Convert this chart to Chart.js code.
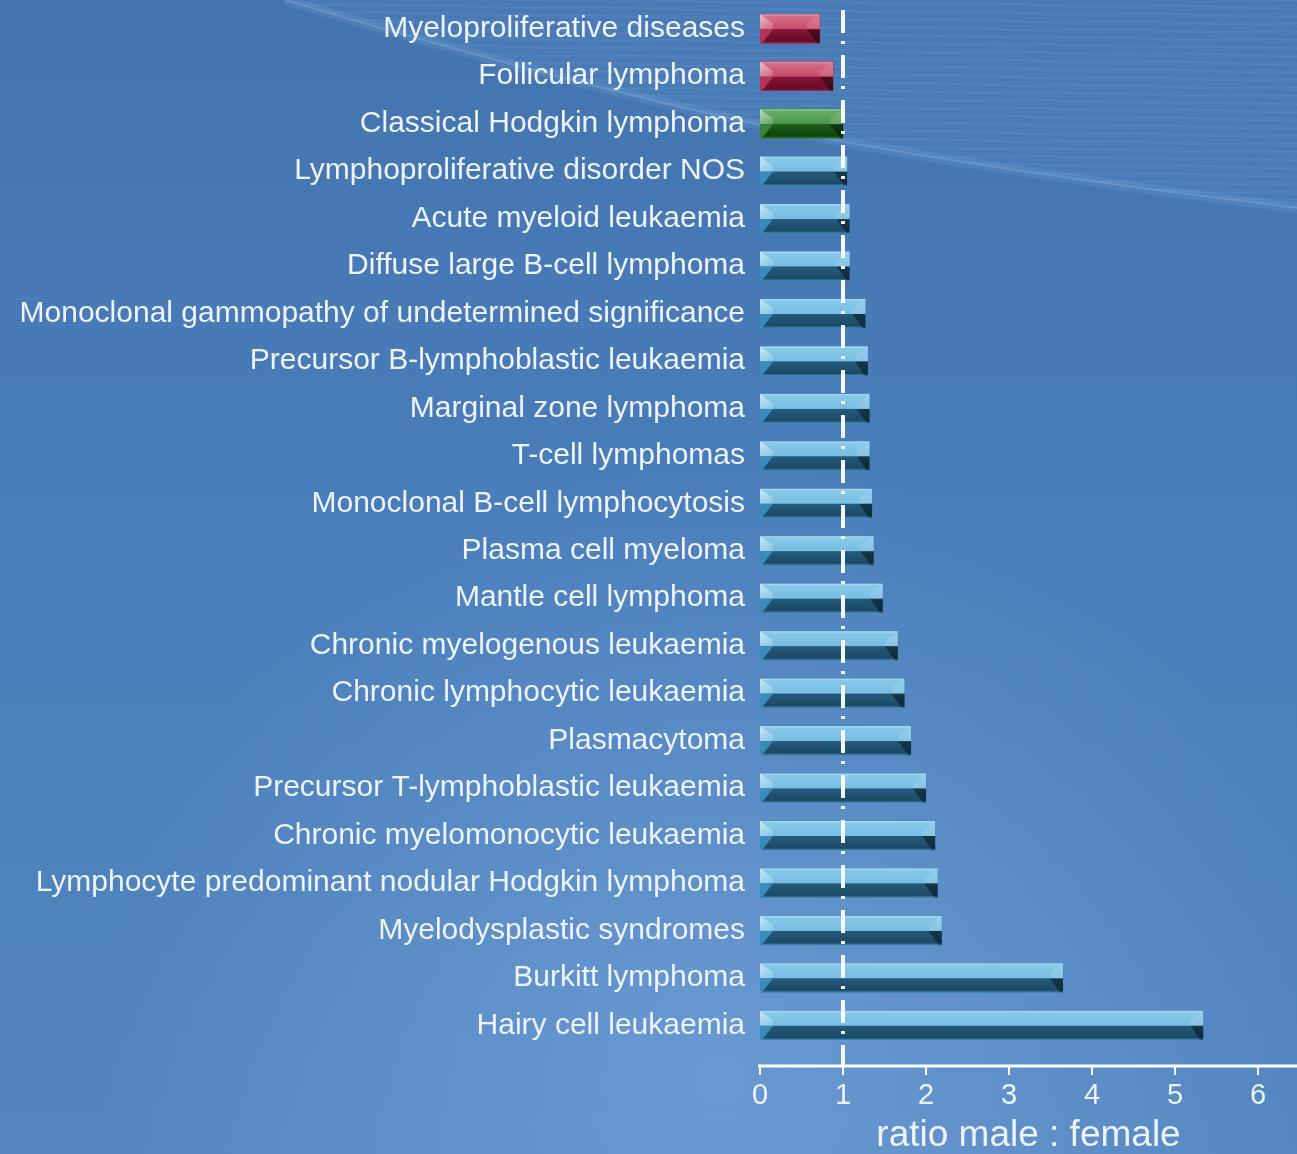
<!DOCTYPE html>
<html lang="en">
<head>
<meta charset="UTF-8">
<title>Male : female ratio by haematological malignancy</title>
<script src="https://cdn.jsdelivr.net/npm/chart.js"></script>
<style>
  body { margin: 0; background: #4677b2; }
  .wrap { width: 1297px; height: 1154px; position: relative; }
</style>
</head>
<body>
<div class="wrap"><canvas id="ratioChart"></canvas></div>
<script>
const diseases = [
    'Myeloproliferative diseases',
    'Follicular lymphoma',
    'Classical Hodgkin lymphoma',
    'Lymphoproliferative disorder NOS',
    'Acute myeloid leukaemia',
    'Diffuse large B-cell lymphoma',
    'Monoclonal gammopathy of undetermined significance',
    'Precursor B-lymphoblastic leukaemia',
    'Marginal zone lymphoma',
    'T-cell lymphomas',
    'Monoclonal B-cell lymphocytosis',
    'Plasma cell myeloma',
    'Mantle cell lymphoma',
    'Chronic myelogenous leukaemia',
    'Chronic lymphocytic leukaemia',
    'Plasmacytoma',
    'Precursor T-lymphoblastic leukaemia',
    'Chronic myelomonocytic leukaemia',
    'Lymphocyte predominant nodular Hodgkin lymphoma',
    'Myelodysplastic syndromes',
    'Burkitt lymphoma',
    'Hairy cell leukaemia'
];
const maleFemaleRatio = [
    0.72, 0.88, 1.00, 1.05, 1.08, 1.08, 1.27, 1.30, 1.32, 1.32, 1.35,
    1.37, 1.48, 1.66, 1.74, 1.82, 2.00, 2.11, 2.14, 2.19, 3.65, 5.34
];
const xTickValues = [0, 1, 2, 3, 4, 5, 6];
const parityRatio = 1;

// shading per tone: female-predominant, equal, male-predominant
const tones = {
    red:   { base: '#a3264a', topA: '#d9728c', topB: '#c44c6b', botA: '#86163a', botB: '#680b27', edge: '#9c2244', facet: 'rgba(190,60,95,0.85)' },
    green: { base: '#2f7a2f', topA: '#6cb06c', topB: '#4c944c', botA: '#1c5c1c', botB: '#0d450d', edge: '#2a7a2a', facet: 'rgba(60,140,60,0.85)' },
    blue:  { base: '#3f86ad', topA: '#8acbeb', topB: '#76bde2', botA: '#245a7b', botB: '#1c4a66', edge: '#3a86b1', facet: 'rgba(60,150,200,0.85)' }
};
function toneFor(v) {
    if (v < parityRatio) return tones.red;
    if (v === parityRatio) return tones.green;
    return tones.blue;
}

function swooshPath(ctx, W) {
    ctx.moveTo(285, 0);
    ctx.bezierCurveTo(520, 70, 700, 115, 850, 143);
    ctx.bezierCurveTo(1000, 170, 1150, 190, W, 208);
}

const backdrop = {
    id: 'backdrop',
    beforeDraw(chart) {
        const ctx = chart.ctx, W = chart.width, H = chart.height;
        ctx.save();
        const g = ctx.createLinearGradient(0, 0, 0, H);
        g.addColorStop(0, '#4374b0');
        g.addColorStop(0.5, '#4a7fbb');
        g.addColorStop(1, '#5386c0');
        ctx.fillStyle = g;
        ctx.fillRect(0, 0, W, H);

        // soft glow in the lower middle
        const r = ctx.createRadialGradient(720, 1080, 0, 720, 1080, 620);
        r.addColorStop(0, 'rgba(125,170,225,0.55)');
        r.addColorStop(1, 'rgba(125,170,225,0)');
        ctx.fillStyle = r;
        ctx.fillRect(0, 0, W, H);

        // rippled swoosh in the top right corner
        ctx.beginPath();
        swooshPath(ctx, W);
        ctx.lineTo(W, 0);
        ctx.closePath();
        ctx.fillStyle = 'rgba(110,160,215,0.16)';
        ctx.fill();
        ctx.save();
        ctx.clip();
        ctx.lineWidth = 1.5;
        for (let y = -20; y < 230; y += 4) {
            ctx.strokeStyle = (y / 4) % 2 ? 'rgba(150,195,240,0.10)' : 'rgba(40,90,150,0.07)';
            ctx.beginPath();
            for (let x = 280; x <= W + 20; x += 12) {
                const yy = y + (x - 280) * 0.012 + Math.sin(x / 30 + y * 0.9) * 0.9;
                if (x === 280) ctx.moveTo(x, yy); else ctx.lineTo(x, yy);
            }
            ctx.stroke();
        }
        ctx.restore();

        ctx.beginPath();
        swooshPath(ctx, W);
        ctx.strokeStyle = 'rgba(190,220,250,0.10)';
        ctx.lineWidth = 10;
        ctx.stroke();
        ctx.strokeStyle = 'rgba(210,230,255,0.16)';
        ctx.lineWidth = 2;
        ctx.stroke();
        ctx.restore();
    }
};

// glassy bevel over each bar, using the bar geometry from the chart
const bevelBars = {
    id: 'bevelBars',
    afterDatasetsDraw(chart) {
        const ctx = chart.ctx;
        const meta = chart.getDatasetMeta(0);
        ctx.save();
        meta.data.forEach((el, i) => {
            const p = el.getProps(['x', 'y', 'base', 'height'], true);
            const t = toneFor(maleFemaleRatio[i]);
            const x0 = p.base, x1 = p.x, h = p.height;
            const yt = p.y - h / 2, yb = p.y + h / 2, w = x1 - x0;
            const mid = yt + h * 0.52;

            let g = ctx.createLinearGradient(0, yt, 0, mid);
            g.addColorStop(0, t.topA);
            g.addColorStop(1, t.topB);
            ctx.fillStyle = g;
            ctx.fillRect(x0, yt, w, mid - yt);

            g = ctx.createLinearGradient(0, mid, 0, yb);
            g.addColorStop(0, t.botA);
            g.addColorStop(0.85, t.botB);
            g.addColorStop(1, t.edge);
            ctx.fillStyle = g;
            ctx.fillRect(x0, mid, w, yb - mid);

            const b = Math.min(13, w / 2);
            // left facet: light corner above, mid tone below
            ctx.beginPath();
            ctx.moveTo(x0, yt);
            ctx.lineTo(x0 + b, yt + h * 0.32);
            ctx.lineTo(x0 + b, mid);
            ctx.lineTo(x0, mid);
            ctx.closePath();
            g = ctx.createLinearGradient(x0, yt, x0 + b, mid);
            g.addColorStop(0, 'rgba(255,255,255,0.55)');
            g.addColorStop(1, 'rgba(255,255,255,0.12)');
            ctx.fillStyle = g;
            ctx.fill();
            ctx.beginPath();
            ctx.moveTo(x0, mid);
            ctx.lineTo(x0 + b, mid);
            ctx.lineTo(x0 + 2, yb);
            ctx.lineTo(x0, yb);
            ctx.closePath();
            ctx.fillStyle = t.facet;
            ctx.fill();

            // right facet: light corner above, deep shadow below
            ctx.beginPath();
            ctx.moveTo(x1, yt);
            ctx.lineTo(x1, mid);
            ctx.lineTo(x1 - b, mid);
            ctx.lineTo(x1 - b, yt + h * 0.32);
            ctx.closePath();
            ctx.fillStyle = 'rgba(255,255,255,0.12)';
            ctx.fill();
            ctx.beginPath();
            ctx.moveTo(x1, mid);
            ctx.lineTo(x1, yb);
            ctx.lineTo(x1 - 3, yb);
            ctx.lineTo(x1 - b, mid);
            ctx.closePath();
            ctx.fillStyle = 'rgba(0,0,0,0.4)';
            ctx.fill();

            // top rim highlight
            ctx.fillStyle = 'rgba(255,255,255,0.22)';
            ctx.fillRect(x0 + 1, yt, w - 2, 1.5);
        });
        ctx.restore();
    }
};

// x axis line with ticks, and the dash-dot line at parity
const axisAndParity = {
    id: 'axisAndParity',
    afterDraw(chart) {
        const ctx = chart.ctx, x = chart.scales.x, area = chart.chartArea;
        const axisY = area.bottom + 17;
        ctx.save();
        ctx.strokeStyle = '#ffffff';
        ctx.lineWidth = 3;
        ctx.beginPath();
        ctx.moveTo(x.getPixelForValue(0) - 2, axisY);
        ctx.lineTo(chart.width, axisY);
        ctx.stroke();
        ctx.lineWidth = 2;
        x.ticks.forEach(t => {
            const px = x.getPixelForValue(t.value);
            ctx.beginPath();
            ctx.moveTo(px, axisY);
            ctx.lineTo(px, axisY + 9);
            ctx.stroke();
        });

        const px = x.getPixelForValue(parityRatio);
        ctx.strokeStyle = 'rgba(255,255,255,0.95)';
        ctx.lineWidth = 4;
        ctx.setLineDash([23, 8, 3, 11]);
        ctx.beginPath();
        ctx.moveTo(px, area.top + 5);
        ctx.lineTo(px, axisY);
        ctx.stroke();
        ctx.restore();
    }
};

new Chart(document.getElementById('ratioChart'), {
    type: 'bar',
    data: {
        labels: diseases,
        datasets: [{
            data: maleFemaleRatio,
            backgroundColor: maleFemaleRatio.map(v => toneFor(v).base),
            borderWidth: 0,
            barThickness: 29
        }]
    },
    options: {
        indexAxis: 'y',
        responsive: true,
        maintainAspectRatio: false,
        animation: false,
        layout: { padding: { top: 5, left: 0, right: 0, bottom: 0 } },
        plugins: {
            legend: { display: false },
            tooltip: { enabled: false }
        },
        scales: {
            y: {
                grid: { display: false, drawTicks: false },
                border: { display: false },
                ticks: {
                    color: '#eef3fa',
                    padding: 15,
                    font: { family: '"Liberation Sans", Arial, sans-serif', size: 30 }
                },
                afterFit(scale) {
                    scale.width = 760;
                    scale.paddingTop = 0;
                    scale.paddingBottom = 0;
                }
            },
            x: {
                min: 0,
                max: 6.47,
                grid: { display: false, drawTicks: false },
                border: { display: false },
                afterBuildTicks(scale) {
                    scale.ticks = xTickValues.map(v => ({ value: v }));
                },
                ticks: {
                    color: '#eef3fa',
                    padding: 30,
                    maxRotation: 0,
                    font: { family: '"Liberation Sans", Arial, sans-serif', size: 29 }
                },
                title: {
                    display: true,
                    text: 'ratio male : female',
                    color: '#eef3fa',
                    padding: { top: 0, bottom: 0 },
                    font: { family: '"Liberation Sans", Arial, sans-serif', size: 37, lineHeight: 1 }
                },
                afterFit(scale) { scale.height = 105; }
            }
        }
    },
    plugins: [backdrop, bevelBars, axisAndParity]
});
</script>
</body>
</html>
